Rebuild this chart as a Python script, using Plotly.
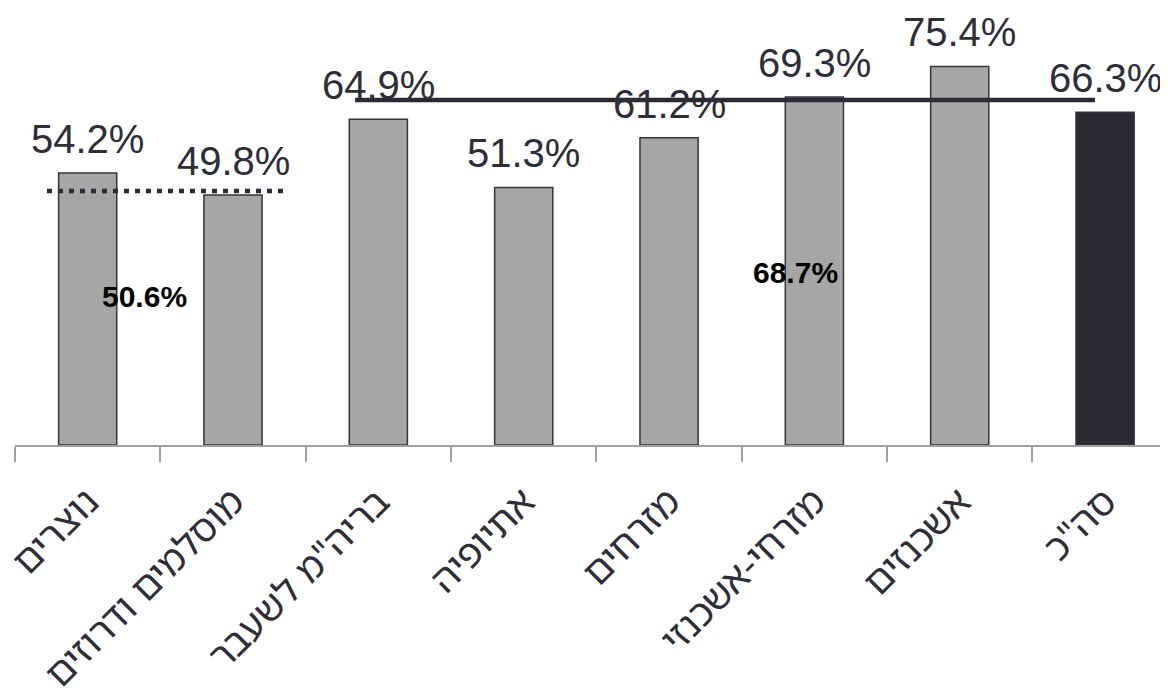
import plotly.graph_objects as go

categories = ["נוצרים", "מוסלמים ודרוזים", "בריה\"מ לשעבר", "אתיופיה",
              "מזרחים", "מזרחי-אשכנזי", "אשכנזים", "סה\"כ"]
values = [54.2, 49.8, 64.9, 51.3, 61.2, 69.3, 75.4, 66.3]
bar_colors = ["#a6a6a6"] * 7 + ["#2b2a33"]

# group averages: value, span (category units), label position
avg_values = [50.6, 68.7]
avg_x0 = [-0.28, 1.84]
avg_x1 = [1.37, 6.93]
avg_dash = ["5px,6px", "solid"]
avg_label_x = [0.39, 4.87]
avg_label_y = [29.5, 34.3]

TEXT = "#2e2e38"

fig = go.Figure()
fig.add_trace(go.Bar(
    x=categories, y=values,
    marker=dict(color=bar_colors, line=dict(color="#34343e", width=1.5)),
    hoverinfo="skip",
))

for c, v in zip(categories, values):
    fig.add_annotation(x=c, y=v, text=f"{v:.1f}%", showarrow=False,
                       yanchor="middle", yshift=34,
                       font=dict(family="Liberation Sans, Arial", size=40, color=TEXT))

for v, x0, x1, d in zip(avg_values, avg_x0, avg_x1, avg_dash):
    fig.add_shape(type="line", xref="x", yref="y", x0=x0, x1=x1, y0=v, y1=v,
                  line=dict(color="#2b2a36", width=4.5, dash=d), layer="above")

for v, lx, ly in zip(avg_values, avg_label_x, avg_label_y):
    fig.add_annotation(x=lx, y=ly, text=f"<b>{v:.1f}%</b>", showarrow=False,
                       font=dict(family="Liberation Sans, Arial", size=30, color="#000000"))

fig.update_layout(
    width=1160, height=680,
    margin=dict(l=7, r=0, t=0, b=243),
    paper_bgcolor="white", plot_bgcolor="white",
    bargap=0.6, showlegend=False,
)
fig.update_xaxes(
    type="category", range=[-0.5, 7.433], automargin=False,
    showline=True, linecolor="#a0a0a0", linewidth=2,
    ticks="outside", tickson="boundaries", ticklen=15, tickcolor="#a0a0a0", tickwidth=2,
    tickangle=-45, showgrid=False, ticklabelstandoff=17,
    tickfont=dict(family="Noto Sans Hebrew, Noto Sans, DejaVu Sans", size=38, color=TEXT),
)
fig.update_yaxes(range=[0, 87.05], visible=False, showgrid=False, automargin=False)

fig.write_html("out.html")
